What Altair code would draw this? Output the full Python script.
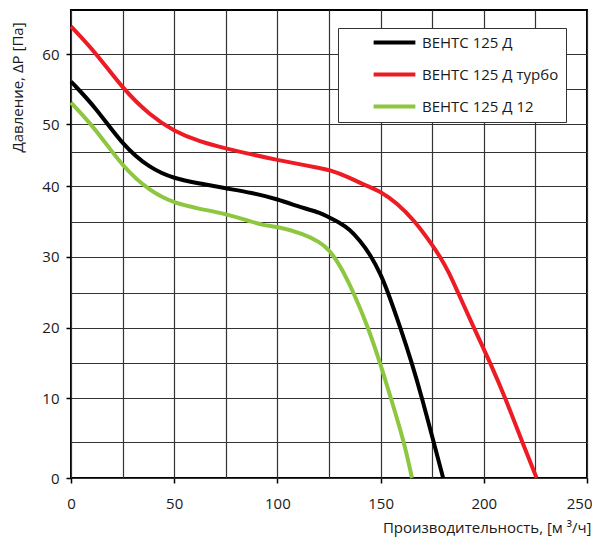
import altair as alt
import pandas as pd

series_names = ["ВЕНТС 125 Д", "ВЕНТС 125 Д турбо", "ВЕНТС 125 Д 12"]
series_colors = ["#000000", "#ed1c24", "#8dc63f"]

black_x = [0, 12.3, 25, 38.2, 50, 62.5, 75, 87.5, 100, 112.5, 120.7, 125, 130, 135, 140, 145, 150, 153, 159.6, 165.2, 170.1, 175.7, 180.3]
black_y = [56.1, 52.3, 46.2, 42.6, 41.1, 40.4, 39.7, 39.1, 38.2, 36.9, 36.3, 35.6, 34.9, 33.9, 32.3, 30.3, 27.6, 25.5, 20, 15, 10, 5, 0]

red_x = [0, 12.3, 25, 38.2, 50, 62.5, 75, 87.5, 100, 112.5, 121, 125, 134, 142, 150, 158, 166, 175, 179, 183, 187.5, 195.2, 203.2, 210.5, 218.6, 225.6]
red_y = [63.9, 60.1, 55.1, 51.3, 48.7, 46.8, 45.6, 44.6, 43.8, 43.1, 42.6, 42.4, 41.4, 40.2, 39.3, 37.6, 35.3, 31.7, 29.9, 27.9, 25, 20, 15, 10, 5, 0]

green_x = [0, 12.3, 25, 38.2, 50, 62.5, 75, 87.5, 93, 100, 112.5, 120.5, 125, 130, 137, 144, 149.8, 155, 161.4, 165.2]
green_y = [53.1, 49.0, 42.8, 39.3, 37.6, 36.8, 36.1, 35.0, 34.5, 34.3, 33.3, 32.1, 31.0, 29.0, 25, 20, 15, 10, 5, 0]

x_ticks = [0, 25, 50, 75, 100, 125, 150, 175, 200, 225, 250]
y_ticks = [0, 5, 10, 15, 20, 25, 30, 35, 40, 45, 50, 55, 60]

x_title = "Производительность, [м ³/ч]"
y_title = "Давление, ΔP [Па]"

rows = []
for name, xs, ys in zip(series_names, [black_x, red_x, green_x], [black_y, red_y, green_y]):
    for i, (xv, yv) in enumerate(zip(xs, ys)):
        rows.append({"series": name, "q": xv, "p": yv, "order": i})
df = pd.DataFrame(rows)

# the reference grid is slightly irregular: piecewise-linear y scale
y_domain = [0, 5, 10, 15, 20, 25, 30, 35, 40, 45, 50, 55, 60, 66.2]
y_range = [468, 432, 388.3, 353.3, 317.7, 282.7, 246.7, 211.7, 176.3, 141.7, 114.3, 79.3, 44, 0]

FONT = "Open Sans"

chart = alt.Chart(df).mark_line(strokeWidth=4, interpolate="basis").encode(
    x=alt.X(
        "q:Q",
        scale=alt.Scale(domain=[0, 250], nice=False, zero=False),
        axis=alt.Axis(
            values=x_ticks,
            labelExpr="datum.value % 50 == 0 ? datum.label : ''",
            tickOpacity={"condition": {"test": "datum.value % 50 != 0", "value": 0}, "value": 1},
            labelAlign={"condition": {"test": "datum.value == 250", "value": "right"}, "value": "center"},
            labelOffset={"condition": {"test": "datum.value == 250", "value": 5}, "value": 0},
            grid=True,
            title=x_title,
            titleX=520,
            titleY=49,
            titleAlign="right",
            titleBaseline="middle",
            labelPadding=13,
        ),
    ),
    y=alt.Y(
        "p:Q",
        scale=alt.Scale(domain=y_domain, range=y_range, nice=False, zero=False),
        axis=alt.Axis(
            values=y_ticks,
            labelExpr="datum.value % 10 == 0 ? datum.label : ''",
            tickOpacity={"condition": {"test": "datum.value % 10 != 0", "value": 0}, "value": 1},
            grid=True,
            title=y_title,
            titleAngle=270,
            titleX=-54,
            titleY=77,
            titleAlign="center",
            titleBaseline="middle",
            labelPadding=7,
        ),
    ),
    color=alt.Color(
        "series:N",
        scale=alt.Scale(domain=series_names, range=series_colors),
        legend=alt.Legend(
            title=None,
            orient="none",
            legendX=267,
            legendY=18,
            symbolType="M-4,0H4",
            symbolSize=109,
            symbolStrokeWidth=4,
            symbolOffset=42,
            labelOffset=20,
            labelLimit=400,
            padding=7,
            rowPadding=15,
            strokeColor="#333333",
            fillColor="#ffffff",
        ),
    ),
    order="order:Q",
).properties(
    width=516,
    height=468,
    autosize=alt.AutoSizeParams(type="none"),
    padding={"left": 63, "top": 2, "right": 5, "bottom": 62},
).configure_view(
    stroke="#000000",
    strokeWidth=2,
).configure_axis(
    domain=False,
    gridColor="#333333",
    gridWidth=1.2,
    gridOpacity=1,
    tickColor="#000000",
    tickWidth=1.5,
    tickSize=5,
    labelFont=FONT,
    labelFontSize=15,
    labelColor="#1a1a1a",
    titleFont=FONT,
    titleFontSize=15,
    titleFontWeight="normal",
    titleColor="#1a1a1a",
).configure_legend(
    labelFont=FONT,
    labelFontSize=15,
    labelColor="#1a1a1a",
    strokeWidth=1,
)

chart.save("out.html", embed_options={"renderer": "svg", "actions": False})
